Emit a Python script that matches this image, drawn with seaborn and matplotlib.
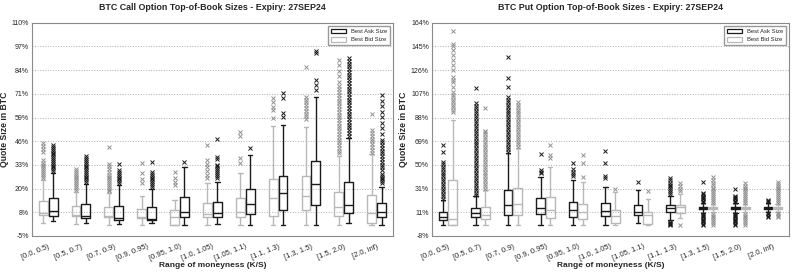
import numpy as np
import pandas as pd
import matplotlib
matplotlib.use('Agg')
import matplotlib.pyplot as plt
from matplotlib.patches import Patch
from matplotlib.colors import to_hex
import seaborn as sns

# 分组 (K/S)
categories = ['[0.0, 0.5)', '[0.5, 0.7)', '[0.7, 0.9)', '[0.9, 0.95)', '[0.95, 1.0)', '[1.0, 1.05)',
              '[1.05, 1.1)', '[1.1, 1.3)', '[1.3, 1.5)', '[1.5, 2.0)', '[2.0, inf)']

# ---- Call: box statistics (lo whisker, q1, median, q3, hi whisker) ----
call_ask_lo = [3.3, 1.9, 1.5, 2.2, 0.9, 1.5, 0.9, 0.9, 0.9, 1.9, 0.9]
call_ask_q1 = [5.8, 4.6, 3.8, 3.6, 5.1, 5.1, 6.7, 8.8, 11.6, 7.5, 5.4]
call_ask_med = [8.7, 6.0, 4.9, 4.0, 8.0, 7.3, 12.3, 18.1, 23.1, 11.6, 8.1]
call_ask_q3 = [15.4, 12.1, 11.4, 10.5, 16.2, 13.5, 20.2, 27.6, 35.7, 23.9, 12.6]
call_ask_hi = [29.2, 23.0, 22.5, 20.5, 32.1, 24.3, 38.7, 54.9, 69.9, 47.8, 21.6]
call_ask_out = [
    [30, 31, 32, 33, 34, 35, 36, 37, 38, 39, 40, 41, 42, 43, 44],
    [24, 25, 26, 27, 28, 29, 30, 31, 32, 33, 34, 35, 36, 37, 38],
    [23.5, 24.5, 25.5, 26.5, 27.5, 28.5, 29.5, 30.5, 33.7],
    [21.5, 22.5, 23.5, 24.5, 25.5, 26.5, 27.5, 28.5, 29.5, 34.7],
    [34.8],
    [26.5, 27.5, 28.5, 29.5, 30.5, 31.5, 32.5, 33.5, 36.5, 37.5, 47.2],
    [42.4],
    [59.4, 61.3, 69.4, 72.1],
    [73.8, 76.5, 79.2, 93.6, 94.5],
    [49, 50.5, 52, 53.5, 55, 56.5, 58, 59.5, 61, 62.5, 64, 65.5, 67, 68.5, 70, 71.5, 73, 74.5,
     76, 77.5, 79, 80.5, 82, 83.5, 85, 86.5, 88, 89.5, 91],
    [23.5, 24.5, 25.5, 26.5, 27.5, 28.5, 30.5, 32, 33.5, 35, 36.5, 38, 39.5, 41, 42.5, 44,
     45.5, 47, 50, 53, 56, 59, 62, 65, 68, 71],
]

call_bid_lo = [1.9, 1.5, 0.9, 0.9, 0.9, 0.9, 0.9, 0.9, 0.9, 0.9, 0.9]
call_bid_q1 = [6.3, 6.0, 5.1, 4.6, 0.9, 5.1, 5.1, 6.0, 8.8, 5.8, 2.2]
call_bid_med = [7.6, 6.3, 5.8, 5.1, 5.1, 6.9, 8.0, 15.4, 16.6, 10.5, 7.6]
call_bid_q3 = [13.9, 11.4, 10.5, 9.5, 9.0, 13.0, 15.4, 25.6, 27.6, 18.9, 17.1]
call_bid_hi = [25.2, 18.9, 18.1, 16.5, 14.5, 23.5, 28.9, 54.5, 54.0, 38.0, 39.0]
call_bid_out = [
    [26.5, 27.5, 28.5, 29.5, 30.5, 31.5, 32.5, 33.5, 34.5, 36, 40.5, 42, 43.5, 45],
    [20, 21, 22, 23, 24, 25, 26, 27, 28, 29, 30, 31],
    [19, 20, 21, 22, 23, 24, 25, 26, 27, 28, 29.5, 31, 32.5, 34, 42.9],
    [23.5, 25.6, 29.2, 34.3],
    [22.5, 24, 26, 29.7],
    [26, 28, 30, 32, 34, 36, 44],
    [34.3, 37, 49, 51],
    [58.6, 63, 64.8, 67.4, 69.4],
    [58, 59.5, 61, 62.5, 64, 65.5, 67, 68.5, 70, 86],
    [39.5, 41, 42.5, 44, 45.5, 47, 48.5, 50, 51.5, 53, 54.5, 56, 57.5, 59, 60.5, 62, 63.5, 65,
     66.5, 68, 69.5, 71, 72.5, 74, 76, 78, 81, 84, 87, 90],
    [40, 41.5, 43, 44.5, 46, 47.5, 49, 50.5, 52, 61],
]

# ---- Put ----
put_ask_lo = [0.9, 0.9, 0.9, 0.9, 0.9, 0.9, 2.2, 4.5, 10.5, 10.5, 11.0]
put_ask_q1 = [4.9, 7.6, 8.9, 9.5, 7.1, 8.1, 8.9, 11.6, 13.5, 13.5, 13.5]
put_ask_med = [7.6, 10.3, 17.0, 14.8, 13.0, 12.4, 11.6, 14.3, 14.3, 14.3, 14.3]
put_ask_q3 = [11.6, 14.3, 29.1, 22.4, 19.7, 18.9, 17.0, 17.0, 15.6, 15.6, 15.6]
put_ask_hi = [21.0, 24.0, 58.7, 39.3, 37.2, 31.3, 29.0, 24.0, 18.5, 18.5, 18.5]
put_ask_out = [
    [22, 24, 26, 28, 30, 32, 34, 36, 38, 40, 42, 44, 46, 48, 50, 52, 60, 65.4],
    [25, 27, 29, 31, 33, 35, 37, 39, 41, 43, 45, 47, 49, 51, 53, 55, 57, 59, 61, 63, 65, 67,
     69, 71, 73, 75, 77, 79, 81, 83, 85, 87, 89, 91, 93, 95, 97, 99, 111],
    [60, 62, 64, 66, 68, 70, 72, 74, 76, 78, 80, 82, 84, 86, 88, 90, 92, 94, 96, 98, 100, 102,
     104, 112.4, 119.2, 136.6],
    [42.5, 44, 45.5, 58.1],
    [40, 42, 44, 46, 50.6],
    [38.5, 40, 50.6, 60.8],
    [35.3],
    [0.9, 1.5, 2.0, 2.5, 3.0, 26, 27.5, 29, 30.5, 32, 33.5, 35, 37, 39],
    [0.9, 2, 3, 4, 5, 6, 7, 8, 9, 10, 19.5, 20.5, 21.5, 22.5, 23.5, 24.5, 25.5, 27, 35.8],
    [0.9, 2, 3, 4, 5, 6, 7, 8, 9, 10, 19.5, 20.5, 21.5, 22.5, 23.5, 24.5, 29.6],
    [7.6, 8.5, 9.5, 10.2, 19.5, 20.5, 21.2],
]

put_bid_lo = [0.9, 0.9, 0.9, 0.9, 0.9, 0.9, 0.9, 6.3, 11.5, 11.5, 11.5]
put_bid_q1 = [0.9, 5.5, 8.9, 6.3, 5.5, 2.2, 2.0, 10.8, 13.8, 13.8, 13.8]
put_bid_med = [5.5, 8.9, 17.6, 13.0, 11.6, 8.1, 8.9, 15.1, 14.8, 14.8, 14.8]
put_bid_q3 = [37.2, 15.1, 30.5, 23.2, 17.8, 13.0, 11.6, 17.0, 15.6, 15.6, 15.6]
put_bid_hi = [85.5, 29.1, 62.7, 48.0, 35.8, 27.7, 21.6, 26.0, 18.0, 18.0, 18.0]
put_bid_out = [
    [92, 94, 96, 98, 100, 102, 104, 106, 108, 112, 116, 118, 120, 126, 130, 134, 138, 142,
     145, 147, 157],
    [30, 32, 34, 36, 38, 40, 42, 44, 46, 48, 50, 52, 54, 56, 58, 60, 62, 64, 66, 68, 70, 72,
     74, 76, 77, 95],
    [64, 66, 68, 70, 72, 74, 76, 78, 80, 82, 84, 86, 88, 90, 92, 94, 96, 98, 100],
    [54.7, 57.3, 65.4],
    [39.8, 50.6, 57.3],
    [30],
    [28],
    [0.9, 28, 30, 32, 34.5],
    [1, 2.5, 4, 5.5, 7, 8.5, 10, 19, 20.5, 22, 23.5, 25, 26.5, 28, 29.5, 31, 33, 35, 37, 39.5],
    [1, 2.5, 4, 5.5, 7, 8.5, 10, 19, 20.5, 22, 23.5, 25, 26.5, 28, 29.5, 31, 32.5, 34.5],
    [7.6, 8.5, 9.5, 10.3, 19, 20.5, 22, 23.5, 25, 26.5, 28, 29.5, 31, 32.5, 34, 35.8],
]

call_yticklabels = ['-5%', '8%', '20%', '33%', '46%', '59%', '71%', '84%', '97%', '110%']
put_yticklabels = ['-8%', '11%', '31%', '50%', '69%', '88%', '107%', '126%', '145%', '164%']

ASK = 'Best Ask Size'
BID = 'Best Bid Size'
ASK_COLOR = '#1a1a1a'
BID_COLOR = '#b8b8b8'
BID_FLIER = '#929292'


def expand(lo, q1, med, q3, hi, extra, m=400):
    """把读出来的五数概括还原成一组样本, 让 seaborn 自己算箱线"""
    return [lo] + [q1] * m + [med] * m + [q3] * m + [hi] + list(extra)


def build_frame(stats):
    rows = []
    for side, (lo, q1, med, q3, hi, out) in stats.items():
        for i, cat in enumerate(categories):
            for v in expand(lo[i], q1[i], med[i], q3[i], hi[i], out[i]):
                rows.append((cat, side, v))
    return pd.DataFrame(rows, columns=['moneyness', 'side', 'size'])


def draw(ax, df, hue_order, title, ylim, yticklabels):
    sns.boxplot(data=df, x='moneyness', y='size', hue='side', order=categories,
                hue_order=hue_order, palette={ASK: ASK_COLOR, BID: BID_COLOR},
                fill=False, width=0.6, gap=0.1, linewidth=1.0, legend=False,
                flierprops=dict(marker='x', markersize=2.5, markeredgewidth=0.7), ax=ax)
    for line in ax.lines:
        if line.get_marker() == 'x' and to_hex(line.get_markeredgecolor()) == BID_COLOR:
            line.set_markeredgecolor(BID_FLIER)
    ax.set_ylim(*ylim)
    ax.set_yticks(np.linspace(ylim[0], ylim[1], 10))
    ax.set_yticklabels(yticklabels, fontsize=5.0)
    ax.set_xticks(range(len(categories)))
    ax.set_xticklabels(categories, rotation=22, ha='right', rotation_mode='anchor', fontsize=5.4)
    ax.tick_params(axis='y', length=0, pad=2)
    ax.tick_params(axis='x', length=0, pad=5)
    ax.yaxis.grid(True, linestyle=':', color='#b0b0b0', linewidth=0.7)
    ax.set_axisbelow(True)
    for sp in ax.spines.values():
        sp.set_color('#8a8a8a')
        sp.set_linewidth(0.8)
    ax.set_title(title, fontsize=6.4, fontweight='bold', pad=9)
    ax.set_xlabel('Range of moneyness (K/S)', fontsize=6.0, fontweight='bold', labelpad=0)
    ax.set_ylabel('Quote Size in BTC', fontsize=6.2, fontweight='bold', labelpad=2)
    handles = [Patch(facecolor='white', edgecolor=ASK_COLOR, linewidth=0.9, label=ASK),
               Patch(facecolor='white', edgecolor=BID_COLOR, linewidth=0.9, label=BID)]
    ax.legend(handles=handles, loc='upper right', fontsize=4.2, frameon=True, fancybox=False,
              edgecolor='#999999', framealpha=1, handlelength=2.6, handleheight=0.9,
              borderpad=0.5, labelspacing=0.5)


sns.set_theme(style='white')
plt.rcParams['font.family'] = ['Liberation Sans', 'DejaVu Sans']

call_df = build_frame({BID: (call_bid_lo, call_bid_q1, call_bid_med, call_bid_q3, call_bid_hi, call_bid_out),
                       ASK: (call_ask_lo, call_ask_q1, call_ask_med, call_ask_q3, call_ask_hi, call_ask_out)})
put_df = build_frame({ASK: (put_ask_lo, put_ask_q1, put_ask_med, put_ask_q3, put_ask_hi, put_ask_out),
                      BID: (put_bid_lo, put_bid_q1, put_bid_med, put_bid_q3, put_bid_hi, put_bid_out)})

fig = plt.figure(figsize=(7.93, 2.72), dpi=100)
ax1 = fig.add_axes([0.040, 0.1324, 0.4556, 0.7841])
ax2 = fig.add_axes([0.5444, 0.1324, 0.4506, 0.7841])

draw(ax1, call_df, [BID, ASK], 'BTC Call Option Top-of-Book Sizes - Expiry: 27SEP24', (-5, 110), call_yticklabels)
draw(ax2, put_df, [ASK, BID], 'BTC Put Option Top-of-Book Sizes - Expiry: 27SEP24', (-8, 164), put_yticklabels)

fig.savefig('out.png', dpi=100)
